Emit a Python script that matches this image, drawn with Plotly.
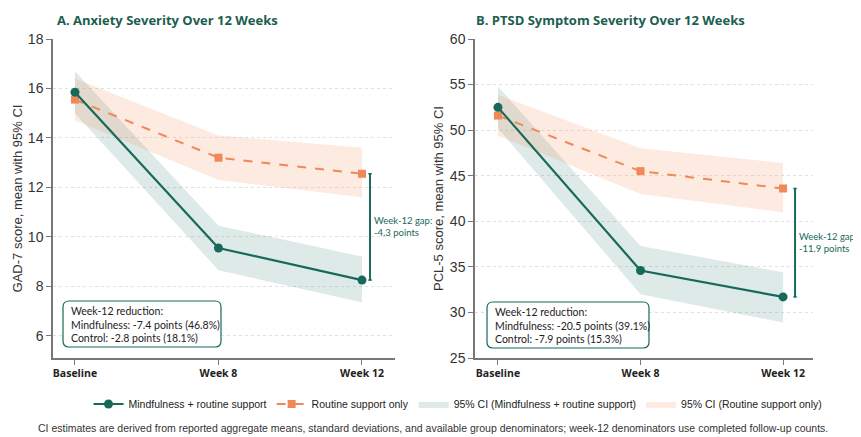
import plotly.graph_objects as go

timepoints = ["Baseline", "Week 8", "Week 12"]
xpos = [0, 1, 2]

# Panel A: GAD-7
gad_mind = [15.85, 9.55, 8.25]
gad_mind_lo = [15.0, 8.65, 7.35]
gad_mind_hi = [16.7, 10.45, 9.2]
gad_ctrl = [15.55, 13.2, 12.55]
gad_ctrl_lo = [14.7, 12.3, 11.6]
gad_ctrl_hi = [16.4, 14.1, 13.6]

# Panel B: PCL-5
pcl_mind = [52.5, 34.6, 31.7]
pcl_mind_lo = [50.2, 32.0, 28.9]
pcl_mind_hi = [54.8, 37.3, 34.4]
pcl_ctrl = [51.6, 45.5, 43.6]
pcl_ctrl_lo = [49.4, 43.0, 41.0]
pcl_ctrl_hi = [53.9, 48.0, 46.4]

TEAL = "#17695a"
ORANGE = "#f0885a"
TEAL_FILL = "rgba(23,105,90,0.14)"
ORANGE_FILL = "rgba(245,150,105,0.20)"
TITLE_C = "#1b5e50"

fig = go.Figure()

def add_panel(xa, ya, mind, mlo, mhi, ctrl, clo, chi, show):
    fig.add_trace(go.Scatter(x=xpos + xpos[::-1], y=mhi + mlo[::-1], fill="toself",
                             fillcolor=TEAL_FILL, line=dict(width=0), mode="lines",
                             name="95% CI (Mindfulness + routine support)", legendrank=3,
                             showlegend=show, hoverinfo="skip", xaxis=xa, yaxis=ya))
    fig.add_trace(go.Scatter(x=xpos + xpos[::-1], y=chi + clo[::-1], fill="toself",
                             fillcolor=ORANGE_FILL, line=dict(width=0), mode="lines",
                             name="95% CI (Routine support only)", legendrank=4,
                             showlegend=show, hoverinfo="skip", xaxis=xa, yaxis=ya))
    fig.add_trace(go.Scatter(x=xpos, y=ctrl, mode="lines+markers",
                             line=dict(color=ORANGE, width=2, dash="dash"),
                             marker=dict(symbol="square", size=8, color=ORANGE),
                             name="Routine support only", legendrank=2,
                             showlegend=show, xaxis=xa, yaxis=ya))
    fig.add_trace(go.Scatter(x=xpos, y=mind, mode="lines+markers",
                             line=dict(color=TEAL, width=2.2),
                             marker=dict(symbol="circle", size=9, color=TEAL),
                             name="Mindfulness + routine support", legendrank=1,
                             showlegend=show, xaxis=xa, yaxis=ya))

add_panel("x", "y", gad_mind, gad_mind_lo, gad_mind_hi, gad_ctrl, gad_ctrl_lo, gad_ctrl_hi, True)
add_panel("x2", "y2", pcl_mind, pcl_mind_lo, pcl_mind_hi, pcl_ctrl, pcl_ctrl_lo, pcl_ctrl_hi, False)

# page body has an 8px margin; figure is sized to fit the window
OFF = 8
W, H = 853, 429

def px(X):
    return (X - OFF) / W

def py(Y):
    return 1 - (Y - OFF) / H

def rounded_box(X0, Y0, X1, Y1, r=6):
    pts = []
    a, b, c, d = px(X0), px(X1), py(Y0), py(Y1)
    rx, ry = r / W, r / H
    return (f"M {a+rx},{c} L {b-rx},{c} Q {b},{c} {b},{c-ry} "
            f"L {b},{d+ry} Q {b},{d} {b-rx},{d} L {a+rx},{d} Q {a},{d} {a},{d+ry} "
            f"L {a},{c-ry} Q {a},{c} {a+rx},{c} Z")

ydom = [py(358), py(39)]

xcommon = dict(tickmode="array", tickvals=xpos, ticktext=timepoints, showline=True,
               linecolor="#777", linewidth=1.5, ticks="outside", tickcolor="#777",
               ticklen=5, showgrid=False, zeroline=False, automargin=False,
               tickfont=dict(family="Open Sans", size=10.5, color="#222", weight="bold"))
ycommon = dict(showline=True, linecolor="#777", linewidth=1.5, ticks="outside",
               tickcolor="#777", ticklen=5, showgrid=True, gridcolor="#e0e0e0",
               griddash="dot", gridwidth=1, zeroline=False, automargin=False,
               tickfont=dict(family="Liberation Sans", size=14, color="#333"),
               title_font=dict(family="Liberation Sans", size=13, color="#333"))

fig.update_layout(
    width=W, height=H, margin=dict(l=0, r=0, t=0, b=0, autoexpand=False),
    paper_bgcolor="white", plot_bgcolor="white",
    xaxis=dict(domain=[px(53), px(395)], range=[-0.153, 2.23], anchor="y", **xcommon),
    yaxis=dict(domain=ydom, range=[5.1, 18], dtick=2, anchor="x",
               title=dict(text="GAD-7 score, mean with 95% CI", standoff=2), **ycommon),
    xaxis2=dict(domain=[px(475), px(813)], range=[-0.161, 2.21], anchor="y2", **xcommon),
    yaxis2=dict(domain=ydom, range=[25, 60], dtick=5, anchor="x2",
                title=dict(text="PCL-5 score, mean with 95% CI", standoff=3), **ycommon),
    legend=dict(orientation="h", x=px(458), xanchor="center", y=py(404), yanchor="middle",
                font=dict(family="Liberation Sans", size=10.5, color="#222"),
                traceorder="normal", bgcolor="rgba(0,0,0,0)"),
    showlegend=True,
)

ann = []
ann.append(dict(text="<b>A. Anxiety Severity Over 12 Weeks</b>", x=px(55), y=py(20),
                xref="paper", yref="paper", xanchor="left", yanchor="middle", showarrow=False,
                font=dict(family="Open Sans", size=13, color=TITLE_C)))
ann.append(dict(text="<b>B. PTSD Symptom Severity Over 12 Weeks</b>", x=px(474), y=py(20),
                xref="paper", yref="paper", xanchor="left", yanchor="middle", showarrow=False,
                font=dict(family="Open Sans", size=13, color=TITLE_C)))
ann.append(dict(text="CI estimates are derived from reported aggregate means, standard deviations, and available group denominators; week-12 denominators use completed follow-up counts.",
                x=px(433), y=py(428), xref="paper", yref="paper", xanchor="center", yanchor="middle",
                showarrow=False, font=dict(family="Liberation Sans", size=10.5, color="#333")))

shapes = []
# reduction boxes
boxes = [((63, 301, 221, 347), "Week-12 reduction:<br>Mindfulness: -7.4 points (46.8%)<br>Control: -2.8 points (18.1%)"),
         ((487, 302, 649, 348), "Week-12 reduction:<br>Mindfulness: -20.5 points (39.1%)<br>Control: -7.9 points (15.3%)")]
for (x0, y0, x1, y1), txt in boxes:
    shapes.append(dict(type="path", xref="paper", yref="paper", path=rounded_box(x0, y0, x1, y1),
                       line=dict(color=TEAL, width=1.2), fillcolor="white", layer="above"))
    ann.append(dict(text=txt, x=px(x0 + 6), y=py((y0 + y1) / 2), xref="paper", yref="paper",
                    xanchor="left", yanchor="middle", align="left", showarrow=False,
                    font=dict(family="Lato", size=10.5, color="#222")))

# gap annotations
gap_a = round(gad_mind[2] - gad_ctrl[2], 1)
gap_b = round(pcl_mind[2] - pcl_ctrl[2], 1)
for xa, ya, gx, lo, hi, gap in [("x", "y", 2.056, gad_mind[2], gad_ctrl[2], gap_a),
                                 ("x2", "y2", 2.084, pcl_mind[2], pcl_ctrl[2], gap_b)]:
    shapes.append(dict(type="line", xref=xa, yref=ya, x0=gx, x1=gx, y0=lo, y1=hi,
                       line=dict(color=TEAL, width=2)))
    for yy in (lo, hi):
        shapes.append(dict(type="line", xref=xa, yref=ya, x0=gx - 0.012, x1=gx + 0.012, y0=yy, y1=yy,
                           line=dict(color=TEAL, width=1.5)))
    ann.append(dict(text=f"Week-12 gap:<br>{gap:.1f} points", x=gx + 0.015, y=(lo + hi) / 2,
                    xref=xa, yref=ya, xanchor="left", yanchor="middle", align="left", showarrow=False,
                    font=dict(family="Lato", size=9.5, color=TEAL)))

fig.update_layout(annotations=ann, shapes=shapes)
fig.write_html("out.html")
